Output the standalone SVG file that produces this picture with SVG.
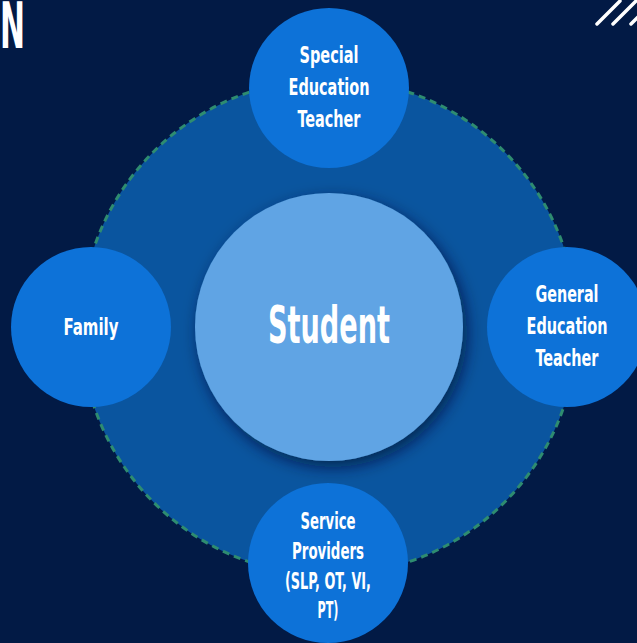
<svg xmlns="http://www.w3.org/2000/svg" width="637" height="643" viewBox="0 0 637 643">
<defs>
<filter id="sh" x="-30%" y="-30%" width="160%" height="160%">
<feDropShadow dx="4" dy="6" stdDeviation="8" flood-color="#001030" flood-opacity="0.7"/>
</filter>
<style>
.node{fill:#0d72d8;}
.lbl{font-family:"DejaVu Sans Condensed","Liberation Sans",sans-serif;font-weight:bold;fill:#ffffff;text-anchor:middle;font-size:23px;}
.slash{stroke:#ffffff;stroke-width:3.5;stroke-linecap:round;}
</style>
</defs>
<rect width="637" height="643" fill="#021a45"/>
<text x="0" y="48" font-family="DejaVu Sans Condensed,sans-serif" font-weight="bold" font-size="64" fill="#ffffff" textLength="25" lengthAdjust="spacingAndGlyphs">N</text>
<line class="slash" x1="597" y1="24" x2="620" y2="1"/>
<line class="slash" x1="613" y1="24" x2="637" y2="0"/>
<line class="slash" x1="631" y1="24" x2="650" y2="5"/>
<g id="ring">
<circle cx="329" cy="327" r="248" fill="#0a559f" stroke="#2e8c70" stroke-width="3" stroke-dasharray="7 5"/>
</g>
<g id="connectors"></g>
<g id="student">
<circle cx="329" cy="327" r="134" fill="#60a4e4" filter="url(#sh)"/>
<text class="lbl" x="329" y="343" style="font-size:52px" textLength="122" lengthAdjust="spacingAndGlyphs">Student</text>
</g>
<g id="special-ed">
<circle class="node" cx="329" cy="88" r="80"/>
<text class="lbl" x="329" y="63" textLength="59" lengthAdjust="spacingAndGlyphs">Special</text>
<text class="lbl" x="329" y="95" textLength="81" lengthAdjust="spacingAndGlyphs">Education</text>
<text class="lbl" x="329" y="127" textLength="63" lengthAdjust="spacingAndGlyphs">Teacher</text>
</g>
<g id="general-ed">
<circle class="node" cx="567" cy="327" r="80"/>
<text class="lbl" x="567" y="302" textLength="63" lengthAdjust="spacingAndGlyphs">General</text>
<text class="lbl" x="567" y="334" textLength="81" lengthAdjust="spacingAndGlyphs">Education</text>
<text class="lbl" x="567" y="366" textLength="63" lengthAdjust="spacingAndGlyphs">Teacher</text>
</g>
<g id="family">
<circle class="node" cx="91" cy="327" r="80"/>
<text class="lbl" x="91" y="335" textLength="55" lengthAdjust="spacingAndGlyphs">Family</text>
</g>
<g id="service">
<circle class="node" cx="328" cy="563" r="80"/>
<text class="lbl" x="328" y="529" textLength="55" lengthAdjust="spacingAndGlyphs">Service</text>
<text class="lbl" x="328" y="559" textLength="72" lengthAdjust="spacingAndGlyphs">Providers</text>
<text class="lbl" x="328" y="589" textLength="86" lengthAdjust="spacingAndGlyphs">(SLP, OT, VI,</text>
<text class="lbl" x="328" y="618" textLength="21" lengthAdjust="spacingAndGlyphs">PT)</text>
</g>
</svg>
